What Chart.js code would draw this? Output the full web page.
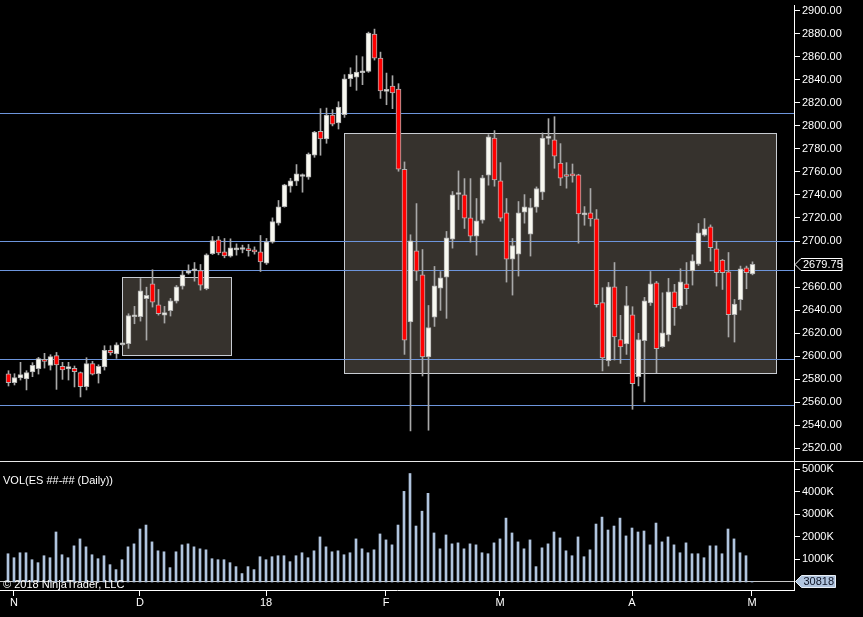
<!DOCTYPE html>
<html>
<head>
<meta charset="utf-8">
<script src="https://cdn.jsdelivr.net/npm/chart.js@4.4.1/dist/chart.umd.min.js"></script>
<style>
html, body { margin: 0; padding: 0; background: #000; overflow: hidden; }
#wrap { position: relative; width: 863px; height: 617px; background: #000; }
#priceBox { position: absolute; left: 0; top: 0; width: 863px; height: 461px; }
#sep { position: absolute; left: 0; top: 461px; width: 863px; height: 1px; background: #e8e8e8; }
#volBox { position: absolute; left: 0; top: 462px; width: 863px; height: 155px; }
</style>
</head>
<body>
<div id="wrap">
  <div id="priceBox"><canvas id="priceChart"></canvas></div>
  <div id="sep"></div>
  <div id="volBox"><canvas id="volChart"></canvas></div>
</div>
<script>
// daily ES bars, Oct 31 2017 .. May 1 2018
const opens = [
  2584.7, 2576.9, 2581.0, 2580.1, 2586.2, 2589.1, 2596.9, 2592.0, 2600.4, 2591.1,
  2588.8, 2589.4, 2585.6, 2573.5, 2593.4, 2584.7, 2590.5, 2605.0, 2601.8, 2609.9,
  2610.8, 2634.2, 2634.2, 2649.8, 2662.8, 2644.6, 2635.6, 2639.4, 2647.8, 2660.8,
  2672.1, 2674.1, 2674.4, 2658.5, 2688.9, 2701.0, 2690.6, 2686.8, 2692.3, 2692.6,
  2693.5, 2691.2, 2690.6, 2680.8, 2699.0, 2715.5, 2729.9, 2747.6, 2751.9, 2756.0,
  2755.4, 2774.5, 2795.3, 2788.6, 2809.5, 2802.5, 2809.8, 2841.0, 2842.4, 2846.2,
  2847.4, 2879.8, 2858.9, 2830.0, 2834.6, 2832.0, 2762.3, 2629.6, 2691.5, 2670.7,
  2599.2, 2633.9, 2659.1, 2668.6, 2701.6, 2740.4, 2740.1, 2720.1, 2704.2, 2718.1,
  2757.1, 2789.5, 2752.2, 2724.4, 2684.3, 2688.6, 2725.0, 2705.9, 2729.4, 2742.4,
  2789.2, 2787.8, 2767.8, 2756.5, 2758.3, 2757.4, 2722.7, 2724.4, 2719.2, 2646.4,
  2596.0, 2660.2, 2614.3, 2610.5, 2635.9, 2582.1, 2613.4, 2646.1, 2663.7, 2608.2,
  2618.3, 2655.9, 2643.5, 2662.8, 2674.1, 2679.9, 2705.1, 2712.3, 2693.2, 2683.4,
  2673.2, 2636.0, 2649.0, 2676.7, 2671.5
];
const highs = [
  2587.3, 2584.7, 2594.6, 2587.3, 2594.3, 2598.9, 2602.4, 2601.2, 2603.2, 2594.6,
  2594.6, 2591.4, 2586.2, 2598.6, 2595.4, 2592.5, 2609.0, 2609.0, 2611.6, 2611.6,
  2636.8, 2643.2, 2667.4, 2659.9, 2675.0, 2657.9, 2643.2, 2650.1, 2661.4, 2674.4,
  2679.3, 2681.3, 2679.6, 2688.9, 2703.9, 2703.9, 2702.2, 2701.9, 2697.5, 2696.4,
  2697.0, 2694.9, 2704.8, 2702.2, 2720.1, 2735.2, 2749.3, 2754.5, 2766.4, 2758.3,
  2776.5, 2795.3, 2815.0, 2815.5, 2814.1, 2821.0, 2844.5, 2850.5, 2861.0, 2860.1,
  2881.5, 2884.1, 2864.1, 2845.9, 2843.6, 2836.7, 2768.7, 2705.4, 2732.5, 2692.6,
  2644.0, 2677.9, 2673.5, 2708.3, 2743.0, 2760.9, 2754.2, 2754.2, 2736.9, 2757.1,
  2792.4, 2795.9, 2768.1, 2736.9, 2702.2, 2734.3, 2740.3, 2736.9, 2747.0, 2793.9,
  2806.3, 2808.0, 2784.6, 2768.1, 2766.9, 2758.0, 2729.9, 2745.6, 2727.3, 2659.4,
  2664.0, 2681.3, 2635.4, 2660.5, 2642.9, 2619.8, 2651.0, 2673.5, 2664.9, 2655.0,
  2667.5, 2662.3, 2675.9, 2681.3, 2688.0, 2715.2, 2719.5, 2714.0, 2699.8, 2684.0,
  2690.0, 2649.2, 2678.2, 2678.2, 2681.9
];
const lows = [
  2574.0, 2574.9, 2579.2, 2570.6, 2582.1, 2584.4, 2589.6, 2587.9, 2571.1, 2579.8,
  2579.2, 2573.2, 2564.5, 2570.6, 2583.6, 2576.6, 2587.9, 2600.9, 2598.0, 2609.0,
  2606.7, 2628.1, 2630.4, 2613.9, 2642.6, 2635.6, 2628.7, 2634.8, 2646.1, 2658.2,
  2671.2, 2665.1, 2657.3, 2657.6, 2688.3, 2688.0, 2685.4, 2686.0, 2687.7, 2689.7,
  2686.8, 2688.6, 2673.5, 2679.6, 2698.1, 2713.8, 2729.4, 2742.4, 2748.2, 2742.4,
  2753.6, 2772.7, 2774.5, 2784.9, 2800.0, 2797.3, 2807.4, 2834.3, 2830.9, 2835.8,
  2846.5, 2857.2, 2823.9, 2818.4, 2815.0, 2760.6, 2601.5, 2535.0, 2665.7, 2582.7,
  2535.6, 2625.8, 2639.7, 2632.8, 2693.8, 2727.3, 2710.9, 2699.0, 2687.7, 2715.5,
  2748.5, 2747.6, 2717.2, 2664.3, 2653.0, 2669.5, 2715.5, 2686.9, 2725.0, 2736.0,
  2784.0, 2763.2, 2748.2, 2745.9, 2751.1, 2698.1, 2713.7, 2712.9, 2642.6, 2587.1,
  2591.4, 2596.6, 2593.7, 2601.5, 2553.8, 2574.1, 2560.2, 2644.0, 2585.6, 2607.6,
  2613.1, 2626.7, 2641.1, 2644.9, 2661.7, 2678.7, 2704.2, 2682.5, 2660.8, 2657.9,
  2616.6, 2612.2, 2640.0, 2658.5, 2670.6
];
const closes = [
  2576.9, 2581.3, 2583.9, 2585.6, 2592.0, 2597.8, 2595.4, 2599.5, 2592.3, 2587.9,
  2590.8, 2586.5, 2573.5, 2593.4, 2584.4, 2591.1, 2605.0, 2602.7, 2609.9, 2610.5,
  2635.3, 2634.8, 2656.7, 2652.7, 2646.9, 2636.8, 2637.9, 2648.1, 2660.2, 2670.6,
  2674.1, 2674.7, 2661.7, 2688.0, 2700.4, 2689.7, 2687.1, 2694.1, 2692.9, 2693.2,
  2691.7, 2690.6, 2681.9, 2699.3, 2716.9, 2729.7, 2748.7, 2752.2, 2758.3, 2756.6,
  2775.6, 2794.7, 2788.6, 2809.5, 2801.4, 2816.4, 2841.0, 2845.0, 2846.8, 2846.8,
  2880.6, 2858.9, 2830.3, 2830.6, 2828.6, 2762.3, 2613.9, 2700.2, 2673.8, 2599.2,
  2624.7, 2661.1, 2668.0, 2702.8, 2740.1, 2741.0, 2719.8, 2704.2, 2717.5, 2754.8,
  2790.4, 2753.1, 2719.8, 2684.3, 2696.1, 2724.4, 2729.7, 2729.1, 2745.6, 2789.5,
  2789.8, 2773.6, 2754.5, 2756.0, 2756.5, 2723.6, 2724.4, 2719.2, 2644.6, 2598.4,
  2660.2, 2616.6, 2607.9, 2643.8, 2576.1, 2614.3, 2648.1, 2662.8, 2606.4, 2620.3,
  2655.9, 2642.0, 2664.6, 2658.5, 2682.8, 2707.1, 2710.6, 2694.1, 2672.4, 2672.4,
  2636.0, 2645.2, 2675.9, 2672.4, 2679.75
];
// volume in thousands of contracts
const volumes = [
  1253, 1077, 1297, 1297, 989, 857, 1165, 1077, 2219, 1209,
  1077, 1604, 1912, 1560, 1209, 1033, 1165, 769, 549, 989,
  1560, 1692, 2351, 2527, 1780, 1384, 1340, 637, 1340, 1648,
  1692, 1560, 1472, 1428, 1033, 989, 989, 857, 681, 374,
  681, 549, 1121, 989, 1121, 1165, 1165, 901, 1165, 1297,
  1077, 1384, 2000, 1560, 1340, 1384, 1209, 1297, 1912, 1472,
  1297, 1428, 2132, 1868, 1648, 2527, 4021, 4813, 2483, 3142,
  3934, 2176, 1472, 2088, 1692, 1736, 1472, 1692, 1648, 1297,
  1253, 1736, 1912, 2835, 2176, 1780, 1472, 1868, 681, 1516,
  1692, 2219, 1956, 1384, 1165, 2000, 1121, 1428, 2571, 2879,
  2307, 2483, 2835, 2044, 2395, 2219, 2263, 1648, 2615, 1780,
  2000, 1648, 1297, 1736, 1253, 1253, 1077, 1604, 1604, 1253,
  2351, 1912, 1297, 1165, 30.818
];

const monthStarts = [1, 22, 43, 63, 82, 104, 124];
const monthLabels = ['N', 'D', '18', 'F', 'M', 'A', 'M'];
const priceTicks = [2520, 2540, 2560, 2580, 2600, 2620, 2640, 2660, 2680, 2700,
  2720, 2740, 2760, 2780, 2800, 2820, 2840, 2860, 2880, 2900];
const volTicks = [1000, 2000, 3000, 4000, 5000];

// drawn objects: horizontal lines and two shaded rectangles (bar index / price)
const hLines = [2811, 2700, 2674.5, 2597.25, 2557.25];
const boxStart = [18.97, 55.97];
const boxEnd = [37.13, 127.87];
const boxTop = [2668.5, 2793.6];
const boxBottom = [2600.95, 2585.1];

const FONT = { family: "'Liberation Sans', Arial, sans-serif", size: 11 };
const FONT_CSS = "11px 'Liberation Sans', Arial, sans-serif";

const idx = opens.map((_, i) => i);
const wickData = idx.map(i => ({ x: i, y: [lows[i], highs[i]] }));
const bodyData = idx.map(i => ({ x: i, y: [Math.min(opens[i], closes[i]), Math.max(opens[i], closes[i])] }));
const bodyColors = idx.map(i => closes[i] >= opens[i] ? '#f8f8f0' : '#ff0000');
const volData = idx.map(i => ({ x: i, y: volumes[i] }));

function fixAxisWidth(scale) {
    scale.width = 69;
    scale.paddingTop = 0;
    scale.paddingBottom = 0;
}

function drawTag(ctx, tipX, y, w, fill, stroke, text, textColor) {
    const h = 12;
    ctx.save();
    ctx.beginPath();
    ctx.moveTo(tipX, y);
    ctx.lineTo(tipX + 6, y - h / 2);
    ctx.lineTo(tipX + 6 + w, y - h / 2);
    ctx.lineTo(tipX + 6 + w, y + h / 2);
    ctx.lineTo(tipX + 6, y + h / 2);
    ctx.closePath();
    ctx.fillStyle = fill;
    ctx.fill();
    ctx.strokeStyle = stroke;
    ctx.lineWidth = 1;
    ctx.stroke();
    ctx.fillStyle = textColor;
    ctx.font = FONT_CSS;
    ctx.textBaseline = 'middle';
    ctx.textAlign = 'left';
    ctx.fillText(text, tipX + 8, y + 0.5);
    ctx.restore();
}

const drawingsPlugin = {
    id: 'drawings',
    beforeDatasetsDraw(chart) {
        const { ctx, chartArea, scales } = chart;
        const x = scales.x, y = scales.y;
        ctx.save();
        for (let b = 0; b < boxStart.length; b++) {
            const x1 = Math.round(x.getPixelForValue(boxStart[b])) + 0.5;
            const x2 = Math.round(x.getPixelForValue(boxEnd[b])) + 0.5;
            const y1 = Math.round(y.getPixelForValue(boxTop[b])) + 0.5;
            const y2 = Math.round(y.getPixelForValue(boxBottom[b])) + 0.5;
            ctx.fillStyle = '#36322d';
            ctx.fillRect(x1, y1, x2 - x1, y2 - y1);
            ctx.strokeStyle = '#c8ccd2';
            ctx.lineWidth = 1;
            ctx.strokeRect(x1, y1, x2 - x1, y2 - y1);
        }
        ctx.strokeStyle = '#6d95dc';
        ctx.lineWidth = 1;
        hLines.forEach(p => {
            const py = Math.round(y.getPixelForValue(p)) + 0.5;
            ctx.beginPath();
            ctx.moveTo(chartArea.left, py);
            ctx.lineTo(chartArea.right, py);
            ctx.stroke();
        });
        ctx.restore();
    },
    afterDraw(chart) {
        const y = chart.scales.y;
        const last = closes[closes.length - 1];
        const py = Math.round(y.getPixelForValue(last)) + 0.5;
        drawTag(chart.ctx, chart.chartArea.right + 1, py, 41, '#000', '#ffffff', last.toFixed(2), '#ffffff');
    }
};

const volPlugin = {
    id: 'volExtras',
    beforeDatasetsDraw(chart) {
        const { ctx, chartArea, scales } = chart;
        const py = Math.round(scales.y.getPixelForValue(0)) - 0.5;
        ctx.save();
        ctx.strokeStyle = '#c8c8c8';
        ctx.lineWidth = 1;
        ctx.beginPath();
        ctx.moveTo(chartArea.left, py);
        ctx.lineTo(chartArea.right, py);
        ctx.stroke();
        ctx.restore();
    },
    afterDraw(chart) {
        const { ctx, chartArea, scales } = chart;
        ctx.save();
        ctx.fillStyle = '#ffffff';
        ctx.font = FONT_CSS;
        ctx.textAlign = 'left';
        ctx.textBaseline = 'alphabetic';
        ctx.fillText('VOL(ES ##-## (Daily))', 3, 22);
        ctx.fillText('\u00A9 2018 NinjaTrader, LLC', 3, 126);
        ctx.restore();
        const lastVol = volumes[volumes.length - 1];
        const py = Math.round(scales.y.getPixelForValue(lastVol)) + 0.5;
        drawTag(ctx, chartArea.right + 1.5, py, 34, '#b0c4de', '#e8eef6', String(Math.round(lastVol * 1000)), '#0c1224');
    }
};

const priceChart = new Chart(document.getElementById('priceChart'), {
    type: 'bar',
    data: {
        datasets: [
            {
                label: 'wick',
                data: wickData,
                backgroundColor: '#a8a8a8',
                grouped: false,
                barPercentage: 1,
                categoryPercentage: 1,
                maxBarThickness: 1,
                order: 2
            },
            {
                label: 'body',
                data: bodyData,
                backgroundColor: bodyColors,
                borderColor: '#b0b0b0',
                borderWidth: 1,
                borderSkipped: false,
                minBarLength: 2,
                grouped: false,
                barPercentage: 1,
                categoryPercentage: 1,
                maxBarThickness: 5,
                order: 1
            }
        ]
    },
    options: {
        responsive: true,
        maintainAspectRatio: false,
        animation: false,
        layout: { padding: { top: 5, left: 0, right: 0, bottom: 0 } },
        plugins: { legend: { display: false }, tooltip: { enabled: false } },
        scales: {
            x: {
                type: 'linear',
                bounds: 'data',
                offset: false,
                grid: { offset: false },
                min: -8.5 / 6,
                max: (794 - 8.5) / 6,
                display: false
            },
            y: {
                position: 'right',
                bounds: 'data',
                min: 2508.862,
                max: 2905.039,
                afterBuildTicks: s => { s.ticks = priceTicks.map(v => ({ value: v })); },
                afterFit: fixAxisWidth,
                grid: { drawOnChartArea: false, drawTicks: true, tickLength: 6, color: '#ffffff' },
                border: { display: true, color: '#ffffff', width: 1 },
                ticks: { color: '#ffffff', font: FONT, padding: 2, callback: v => Number(v).toFixed(2) }
            }
        }
    },
    plugins: [drawingsPlugin]
});

const volChart = new Chart(document.getElementById('volChart'), {
    type: 'bar',
    data: {
        datasets: [{
            label: 'VOL',
            data: volData,
            backgroundColor: '#b0c4de',
            barThickness: 2
        }]
    },
    options: {
        responsive: true,
        maintainAspectRatio: false,
        animation: false,
        layout: { padding: 0 },
        plugins: { legend: { display: false }, tooltip: { enabled: false } },
        scales: {
            x: {
                type: 'linear',
                bounds: 'data',
                offset: false,
                min: -8 / 6,
                max: (794 - 8) / 6,
                afterBuildTicks: s => { s.ticks = monthStarts.map(v => ({ value: v })); },
                afterFit: s => { s.height = 27; },
                grid: { offset: false, drawOnChartArea: false, drawTicks: true, tickLength: 6, color: '#ffffff' },
                border: { display: true, color: '#ffffff', width: 1 },
                ticks: {
                    color: '#ffffff', font: FONT, padding: 0, autoSkip: false, maxRotation: 0,
                    callback: v => monthLabels[monthStarts.indexOf(v)]
                }
            },
            y: {
                position: 'right',
                bounds: 'data',
                min: -354.9,
                max: 5323.9,
                afterBuildTicks: s => { s.ticks = volTicks.map(v => ({ value: v })); },
                afterFit: fixAxisWidth,
                grid: { drawOnChartArea: false, drawTicks: true, tickLength: 6, color: '#ffffff' },
                border: { display: true, color: '#ffffff', width: 1 },
                ticks: { color: '#ffffff', font: FONT, padding: 2, callback: v => v + 'K' }
            }
        }
    },
    plugins: [volPlugin]
});
</script>
</body>
</html>
